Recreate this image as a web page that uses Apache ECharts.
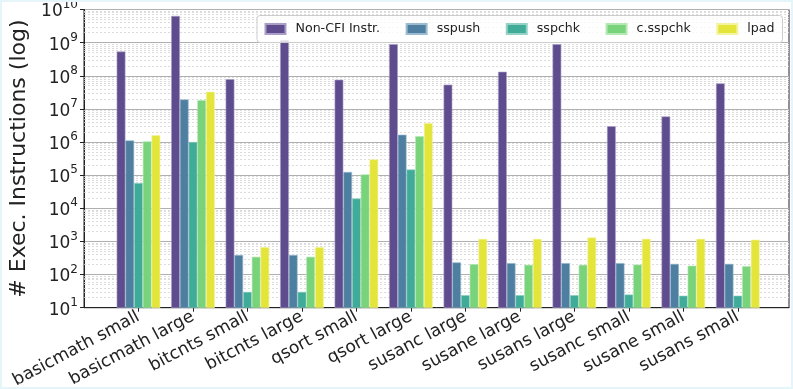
<!DOCTYPE html>
<html>
<head>
<meta charset="utf-8">
<script src="https://cdn.jsdelivr.net/npm/echarts@6/dist/echarts.min.js"></script>
<style>
  html, body { margin: 0; padding: 0; background: #fff; }
  #chart { position: absolute; left: 0; top: 0; width: 793px; height: 389px; }
  #frame { position: absolute; left: 0; top: 0; width: 793px; height: 389px; box-sizing: border-box;
           border: 2px solid #e6f5fa; pointer-events: none; }
</style>
</head>
<body>
<div id="chart"></div>
<div id="frame"></div>
<script>
const categories = ['basicmath small', 'basicmath large', 'bitcnts small', 'bitcnts large',
  'qsort small', 'qsort large', 'susanc large', 'susane large', 'susans large',
  'susanc small', 'susane small', 'susans small'];

const nonCfi  = [5.4e8, 6.4e9, 7.9e7, 1.2e9, 7.6e7, 9.0e8, 5.4e7, 1.32e8, 9.0e8, 3.0e6, 5.9e6, 5.9e7];
const sspush  = [1.12e6, 1.93e7, 390, 390, 1.25e5, 1.66e6, 233, 222, 222, 222, 210, 210];
const sspchk  = [5.8e4, 1.0e6, 30, 30, 1.97e4, 1.48e5, 24, 24, 24, 25, 23, 23];
const cSspchk = [1.05e6, 1.84e7, 344, 344, 1.06e5, 1.51e6, 207, 197, 197, 200, 185, 180];
const lpad    = [1.6e6, 3.3e7, 673, 673, 3.0e5, 3.73e6, 1197, 1197, 1320, 1200, 1200, 1130];

const seriesNames = ['Non-CFI Instr.', 'sspush', 'sspchk', 'c.sspchk', 'lpad'];
const seriesValues = [nonCfi, sspush, sspchk, cSspchk, lpad];
const colors = ['#5e4c8e', '#4f7fa0', '#3fab98', '#78d37a', '#e4e53a'];
const edges  = ['#a99fc6', '#9bbcd0', '#95d2c6', '#b6e8b6', '#f3f3a0'];

// minor gridlines at 2..9 of every decade
const minorLines = [];
for (let e = 1; e < 10; e++) {
  for (let m = 2; m <= 9; m++) minorLines.push(m * Math.pow(10, e));
}

const chart = echarts.init(document.getElementById('chart'));

const series = seriesNames.map((name, k) => ({
  name: name,
  type: 'bar',
  barWidth: 8.72,
  barGap: '0%',
  data: seriesValues[k].map((v, i) => [i, v]),
  itemStyle: { color: colors[k], borderColor: edges[k], borderWidth: 0.6 },
  z: 2
}));

series[0].markLine = {
  silent: true,
  symbol: 'none',
  z: 1,
  animation: false,
  label: { show: false },
  lineStyle: { color: '#d4d4d4', type: [2, 2], width: 0.8 },
  data: minorLines.map(v => ({ yAxis: v }))
};

const option = {
  animation: false,
  textStyle: { fontFamily: 'DejaVu Sans' },
  grid: {
    left: 84, right: 4, top: 9.5, bottom: 81.3,
    outerBoundsMode: 'none',
    containLabel: false,
    show: true, borderColor: '#222', borderWidth: 1
  },
  legend: {
    data: seriesNames,
    left: 257, top: 15.5,
    padding: [6, 8, 6, 7.5],
    itemWidth: 20, itemHeight: 10, itemGap: 25.5,
    icon: 'rect',
    backgroundColor: 'rgba(255,255,255,0.8)',
    borderColor: '#cccccc', borderWidth: 1, borderRadius: 3,
    textStyle: { fontSize: 12.6, color: '#222', lineHeight: 15, padding: [0, 0, 0, 5] }
  },
  xAxis: {
    type: 'value',
    min: -1, max: 11.94,
    scale: true,
    splitLine: { show: false },
    axisLine: { show: true, onZero: false, lineStyle: { color: '#222' } },
    axisTick: { show: true, length: 4, customValues: categories.map((c, i) => i), lineStyle: { color: '#222' } },
    axisLabel: {
      customValues: categories.map((c, i) => i),
      formatter: v => categories[Math.round(v)],
      rotate: 28, fontSize: 17.2, color: '#222', margin: 8
    }
  },
  yAxis: {
    type: 'log',
    logBase: 10,
    min: 10, max: 1e10,
    splitNumber: 9,
    name: '# Exec. Instructions (log)',
    nameLocation: 'middle',
    nameGap: 52,
    nameTextStyle: { fontSize: 22, color: '#222' },
    axisLine: { show: true, onZero: false, lineStyle: { color: '#222' } },
    axisTick: { show: true, length: 4, lineStyle: { color: '#222' } },
    splitLine: { show: true, lineStyle: { color: '#b0b0b0', width: 1 } },
    axisLabel: {
      margin: 6,
      formatter: v => '{b|10}{s|' + Math.round(Math.log10(v)) + '}',
      rich: {
        b: { fontSize: 17, color: '#222', lineHeight: 22, verticalAlign: 'bottom' },
        s: { fontSize: 12, color: '#222', lineHeight: 12, verticalAlign: 'top' }
      }
    }
  },
  series: series
};

chart.setOption(option);
</script>
</body>
</html>
